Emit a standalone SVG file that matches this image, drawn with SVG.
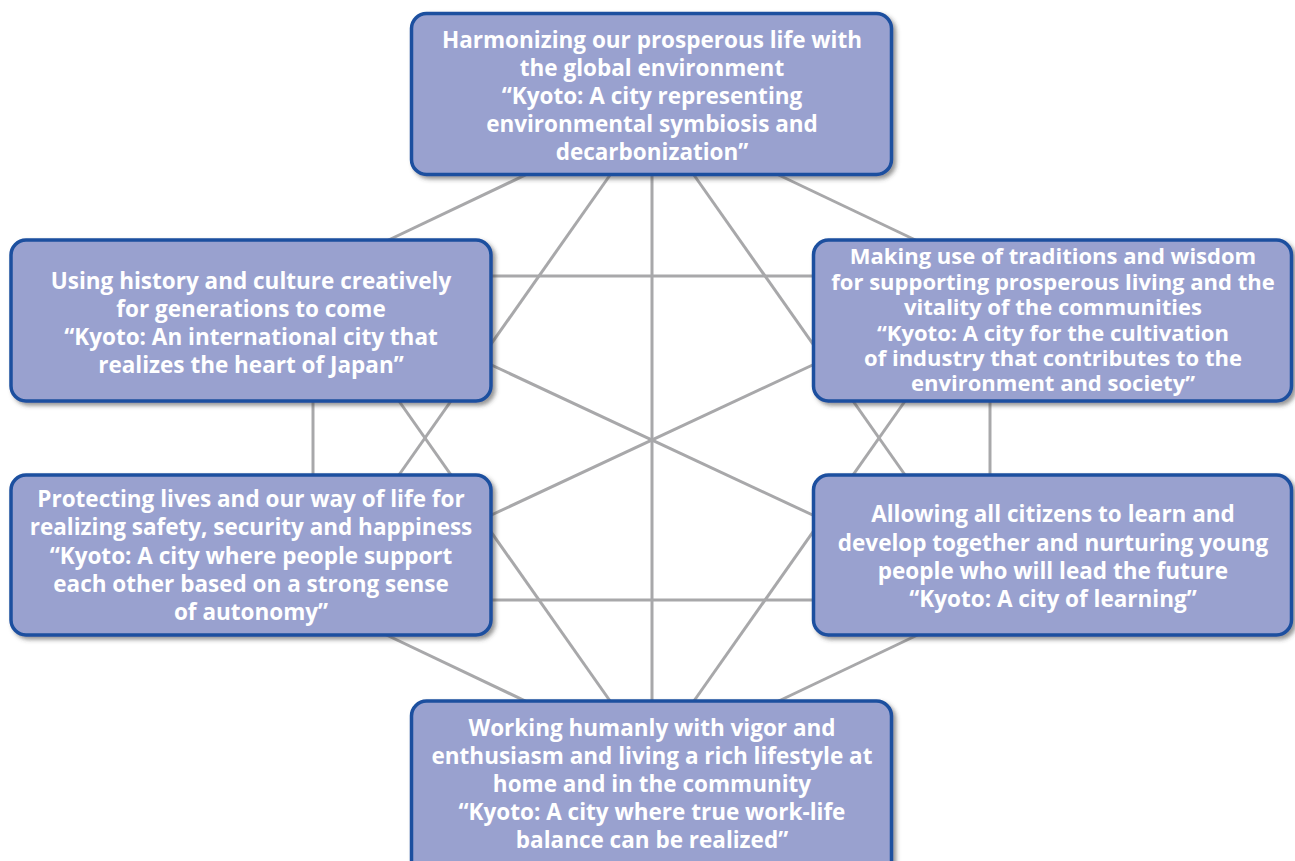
<svg xmlns="http://www.w3.org/2000/svg" width="1295" height="861" viewBox="0 0 1295 861">
  <defs>
    <filter id="shadow" x="-5%" y="-5%" width="112%" height="115%">
      <feDropShadow dx="3" dy="3" stdDeviation="2" flood-color="#404040" flood-opacity="0.55"/>
    </filter>
    <style>
      .link { stroke: #a8a8aa; stroke-width: 3; fill: none; }
      .box { fill: #99a1cf; stroke: #1b4f9f; stroke-width: 3.5; filter: url(#shadow); }
      .label { font-family: "Open Sans", "Noto Sans", "Liberation Sans", sans-serif; font-weight: 700; font-size: 22.5px; fill: #ffffff; text-anchor: middle; }
      .tight { font-size: 22px; }
    </style>
  </defs>
  <rect width="1295" height="861" fill="#ffffff"/>

  <!-- every goal is linked to every other goal -->
  <g id="connectors">
    <line class="link" x1="540" y1="168" x2="376" y2="246"/>
    <line class="link" x1="764" y1="168" x2="928" y2="246"/>
    <line class="link" x1="615" y1="168" x2="394" y2="482"/>
    <line class="link" x1="689" y1="168" x2="910" y2="482"/>
    <line class="link" x1="652" y1="168" x2="652" y2="708"/>
    <line class="link" x1="485" y1="276" x2="819" y2="276"/>
    <line class="link" x1="485" y1="362" x2="819" y2="518"/>
    <line class="link" x1="485" y1="518" x2="819" y2="362"/>
    <line class="link" x1="485" y1="600" x2="819" y2="600"/>
    <line class="link" x1="313" y1="396" x2="313" y2="480"/>
    <line class="link" x1="990" y1="396" x2="990" y2="480"/>
    <line class="link" x1="394" y1="394" x2="615" y2="708"/>
    <line class="link" x1="910" y1="394" x2="689" y2="708"/>
    <line class="link" x1="376" y1="630" x2="540" y2="708"/>
    <line class="link" x1="928" y1="630" x2="764" y2="708"/>
  </g>

  <g id="node-environment">
    <rect class="box" x="411.5" y="13.5" width="480" height="161" rx="15"/>
    <text class="label" x="652" y="48">Harmonizing our prosperous life with</text>
    <text class="label" x="652" y="76">the global environment</text>
    <text class="label" x="652" y="104">“Kyoto: A city representing</text>
    <text class="label" x="652" y="132">environmental symbiosis and</text>
    <text class="label" x="652" y="160">decarbonization”</text>
  </g>

  <g id="node-culture">
    <rect class="box" x="11" y="240" width="480" height="161" rx="15"/>
    <text class="label" x="251" y="289">Using history and culture creatively</text>
    <text class="label" x="251" y="317">for generations to come</text>
    <text class="label" x="251" y="345">“Kyoto: An international city that</text>
    <text class="label" x="251" y="373">realizes the heart of Japan”</text>
  </g>

  <g id="node-industry">
    <rect class="box" x="813.5" y="240" width="478" height="161" rx="15"/>
    <text class="label tight" x="1053" y="264">Making use of traditions and wisdom</text>
    <text class="label tight" x="1053" y="290">for supporting prosperous living and the</text>
    <text class="label tight" x="1053" y="315">vitality of the communities</text>
    <text class="label tight" x="1053" y="341">“Kyoto: A city for the cultivation</text>
    <text class="label tight" x="1053" y="366">of industry that contributes to the</text>
    <text class="label tight" x="1053" y="391">environment and society”</text>
  </g>

  <g id="node-safety">
    <rect class="box" x="11" y="475" width="480" height="160" rx="15"/>
    <text class="label" x="251" y="507">Protecting lives and our way of life for</text>
    <text class="label" x="251" y="535">realizing safety, security and happiness</text>
    <text class="label" x="251" y="564">“Kyoto: A city where people support</text>
    <text class="label" x="251" y="592">each other based on a strong sense</text>
    <text class="label" x="251" y="620">of autonomy”</text>
  </g>

  <g id="node-learning">
    <rect class="box" x="813.5" y="475" width="478" height="160" rx="15"/>
    <text class="label" x="1053" y="522">Allowing all citizens to learn and</text>
    <text class="label" x="1053" y="551">develop together and nurturing young</text>
    <text class="label" x="1053" y="579">people who will lead the future</text>
    <text class="label" x="1053" y="607">“Kyoto: A city of learning”</text>
  </g>

  <g id="node-worklife">
    <rect class="box" x="411.5" y="701" width="480" height="175" rx="15"/>
    <text class="label" x="652" y="736">Working humanly with vigor and</text>
    <text class="label" x="652" y="764">enthusiasm and living a rich lifestyle at</text>
    <text class="label" x="652" y="792">home and in the community</text>
    <text class="label" x="652" y="820">“Kyoto: A city where true work-life</text>
    <text class="label" x="652" y="848">balance can be realized”</text>
  </g>
</svg>
